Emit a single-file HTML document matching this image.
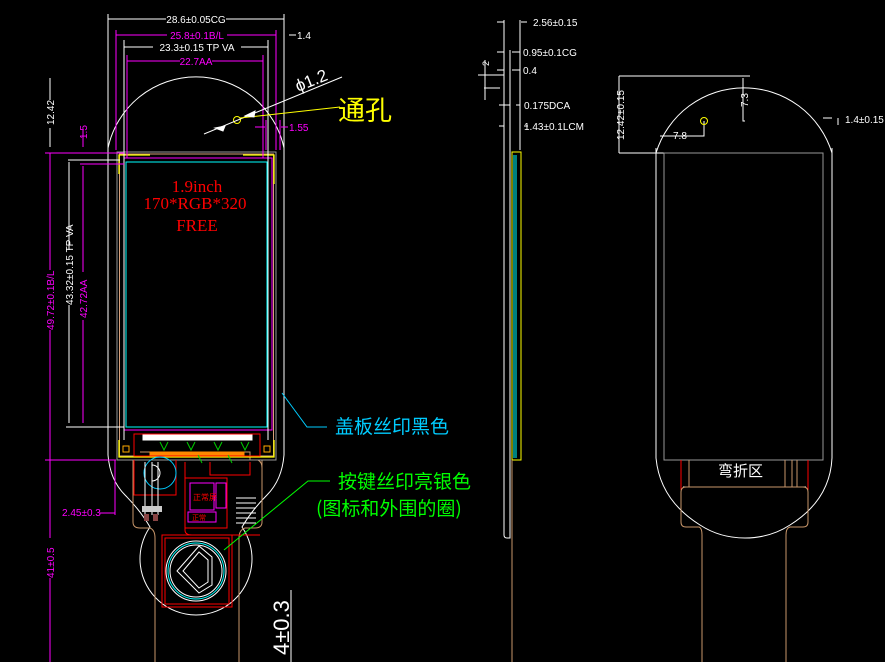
<!DOCTYPE html>
<html><head><meta charset="utf-8"><style>
html,body{margin:0;padding:0;background:#000;width:885px;height:662px;overflow:hidden}
svg{display:block}
text{font-family:"Liberation Sans","Noto Sans CJK SC",sans-serif}
</style></head><body>
<svg width="885" height="662" viewBox="0 0 885 662" xmlns="http://www.w3.org/2000/svg">
<g fill="none" stroke-width="1">
<path d="M108,148 A90,90 0 0 1 284,148" stroke="#fff"/>
<path d="M108,148 V455 Q110,480 125,495 Q140,510 150,527 A56,56 0 1 0 242,527 Q252,510 267,495 Q282,480 284,455 V148" stroke="#fff"/>
<path d="M133,460 V522 Q133,528 140,528 L150,528 Q155,530 155,538 V662" stroke="#c8966a"/>
<path d="M262,460 V522 Q262,528 255,528 L245,528 Q239,530 239,538 V662" stroke="#c8966a"/>
<path d="M140,452 H250 V460 H258 Q262,462 262,468" stroke="#c8966a"/>
<rect x="117" y="152" width="159" height="308" stroke="#999"/>
<rect x="119.5" y="154" width="154" height="302" stroke="#d9a07a"/>
<rect x="124" y="158" width="148" height="272" stroke="#f0f"/>
<rect x="126" y="162" width="141" height="265" stroke="#0ff"/>
<path d="M119,174 V155 H150 M243,155 H274 V184 M119,440 V457 H274 V440" stroke="#ff0" stroke-width="1.3"/>
<rect x="143" y="435" width="109" height="5" fill="#fff" stroke="#fff"/>
<rect x="134" y="434" width="126" height="22" stroke="#f00"/>
<rect x="150" y="452" width="94" height="3" fill="#f80" stroke="#f80"/>
<path d="M160,442 l4,8 l4,-8 M187,442 l4,8 l4,-8 M214,442 l4,8 l4,-8 M241,442 l4,8 l4,-8 M198,455 l4,8 M228,455 l4,8" stroke="#0c0"/>
<rect x="123" y="446" width="6" height="6" stroke="#fa0"/>
<rect x="264" y="446" width="6" height="6" stroke="#fa0"/>
<path d="M134,460 V495 H176 V460" stroke="#f00"/>
<circle cx="160" cy="473" r="16" stroke="#0cf"/>
<path d="M152,465 a8,8 0 1 1 0,16" stroke="#fff"/>
<path d="M145,462 V515 M152,462 V515 M158,462 V515" stroke="#fff"/>
<rect x="142" y="506" width="20" height="6" fill="#ccc"/>
<rect x="144" y="514" width="5" height="7" fill="#844"/>
<rect x="153" y="514" width="5" height="7" fill="#844"/>
<path d="M185,462 V530 Q185,535 192,535 H260" stroke="#f00"/>
<path d="M210,462 V475 H250 V462" stroke="#f00"/>
<rect x="185" y="478" width="42" height="50" stroke="#f00"/>
<rect x="190" y="483" width="24" height="27" stroke="#f0f"/>
<rect x="216" y="483" width="10" height="25" stroke="#f0f"/>
<rect x="188" y="512" width="28" height="10" stroke="#f0f"/>
<text x="193" y="500" font-size="8" fill="#f00" stroke="none">正常屏</text>
<text x="192" y="520" font-size="7" fill="#f00" stroke="none">正常</text>
<path d="M236,498 H256 M236,503 H256 M236,508 H256 M236,513 H256 M236,518 H256 M236,523 H256" stroke="#fff"/>
<rect x="162" y="535" width="70" height="72" stroke="#f00"/>
<rect x="165" y="538" width="64" height="66" stroke="#f00"/>
<circle cx="196" cy="571" r="30" stroke="#fff"/>
<circle cx="196" cy="571" r="28" stroke="#0ff"/>
<circle cx="196" cy="571" r="26" stroke="#fff"/>
<path d="M199,546 L177,571 L199,593 L212,585 L212,557 Z M199,552 L183,571 L199,588 L208,582 L208,560 Z" stroke="#fff"/>
<g stroke="#fff">
<path d="M108,14 V150 M284,14 V150 M108,19 H166 M226,19 H284 M289,35 H296"/>
<path d="M124,40 V440 M268,40 V440 M124,47 H153 M241,47 H268"/>
</g>
<g stroke="#f0f">
<path d="M116,30 V150 M276,30 V150 M116,35 H167 M227,35 H276"/>
<path d="M127,55 V158 M263,55 V158 M127,61 H180 M212,61 H263"/>
<path d="M255,127 H265 M281,127 H288 M266,120 V150 M280,120 V150"/>
</g>
<circle cx="237" cy="120" r="3.5" stroke="#ff0"/>
<path d="M204,134 L342,77" stroke="#fff"/>
<path d="M240,118 L340,107" stroke="#ff0"/>
<path d="M215,128 l10,-2 l-2,5z M245,116 l10,-5 l-1,6z" fill="#fff" stroke="#fff"/>
<g stroke="#fff">
<path d="M50,78 V100 M50,128 V147 M68,160 H120 M69,162 V250 M69,305 V423 M66,427 H124"/>
</g>
<g stroke="#f0f">
<path d="M45,153 H124 M50,153 V270 M50,330 V460 M80,164 H124 M83,166 V272 M83,320 V423 M83,130 V147 M45,460 H116 M50,460 V538 M50,578 V662"/>
<path d="M115,460 V515 M100,513 H115"/>
</g>
<path d="M282,393 L307,427 H327" stroke="#0cf"/>
<path d="M224,550 L308,481 H330" stroke="#0f0"/>
<path d="M291,590 V662" stroke="#fff"/>
<g stroke="#fff">
<path d="M504,20 V535 Q504,538 507,538 M510,50 V538 H507 M520,20 V150 M497,22 H504 M521,22 H527 M497,52 H504 M512,52 H520 M497,70 H504 M512,70 H520 M478,75 H504 M484,88 H500 M485,60 V100 M499,105 H510 M516,105 H520 M499,126 H504 M524,126 H528"/>
</g>
<rect x="512" y="152" width="9" height="308" stroke="#ff0"/>
<path d="M514,155 V458 M516,155 V458" stroke="#0ff"/>
<path d="M512,460 V662" stroke="#c8966a"/>
<path d="M656,153 A92,92 0 0 1 832,153" stroke="#fff"/>
<path d="M656,148 V458 Q660,500 700,525 Q720,538 745,538 Q770,538 790,525 Q830,500 832,458 V148" stroke="#fff"/>
<path d="M619,153 H823 M619,76 H750" stroke="#fff"/>
<path d="M619,76 V153 M743,78 V121 H745 M704,121 V136 H660 M823,118 H832 M838,118 V125" stroke="#fff"/>
<rect x="664" y="153" width="159" height="307" stroke="#999"/>
<circle cx="704" cy="121" r="3.5" stroke="#ff0"/>
<path d="M681,460 V487 M808,460 V487 M689,460 V487 M785,460 V487 M792,460 V487 M797,460 V487" stroke="#c8966a"/>
<path d="M681,460 V490 M808,460 V490" stroke="#f00"/>
<path d="M683,487 H806" stroke="#fff"/>
<path d="M686,487 H803 Q808,487 808,492 V522 Q808,527 803,527 H790 Q786,528 786,535 V662 M686,487 Q681,487 681,492 V522 Q681,527 686,527 H699 Q702,528 702,535 V662" stroke="#c8966a"/>
</g>
<g stroke="none">
<text x="196" y="23" font-size="10" fill="#fff" text-anchor="middle">28.6±0.05CG</text>
<text x="297" y="39" font-size="10" fill="#fff">1.4</text>
<text x="197" y="39" font-size="10" fill="#f0f" text-anchor="middle">25.8±0.1B/L</text>
<text x="197" y="51" font-size="10" fill="#fff" text-anchor="middle">23.3±0.15  TP  VA</text>
<text x="196" y="65" font-size="10" fill="#f0f" text-anchor="middle">22.7AA</text>
<text x="289" y="131" font-size="10" fill="#f0f">1.55</text>
<text x="0" y="0" font-size="17" fill="#fff" transform="translate(298,92) rotate(-22)">ϕ1.2</text>
<text x="338" y="120" font-size="27" fill="#ff0" style="font-family:'Noto Sans CJK SC',sans-serif">通孔</text>
<text x="197" y="192" font-size="17" fill="#f00" text-anchor="middle" style="font-family:'Liberation Serif',serif">1.9inch</text>
<text x="195" y="209" font-size="17" fill="#f00" text-anchor="middle" style="font-family:'Liberation Serif',serif">170*RGB*320</text>
<text x="197" y="231" font-size="17" fill="#f00" text-anchor="middle" style="font-family:'Liberation Serif',serif">FREE</text>
<text transform="translate(54,125) rotate(-90)" font-size="10" fill="#fff">12.42</text>
<text transform="translate(87,139) rotate(-90)" font-size="10" fill="#f0f">1.5</text>
<text transform="translate(54,330) rotate(-90)" font-size="10" fill="#f0f">49.72±0.1B/L</text>
<text transform="translate(73,305) rotate(-90)" font-size="10" fill="#fff">43.32±0.15  TP  VA</text>
<text transform="translate(87,318) rotate(-90)" font-size="10" fill="#f0f">42.72AA</text>
<text transform="translate(54,578) rotate(-90)" font-size="10" fill="#f0f">41±0.5</text>
<text x="62" y="516" font-size="10" fill="#f0f">2.45±0.3</text>
<text transform="translate(289,655) rotate(-90)" font-size="22" fill="#fff">4±0.3</text>
<text x="335" y="433" font-size="19" fill="#0cf" style="font-family:'Noto Sans CJK SC',sans-serif">盖板丝印黑色</text>
<text x="338" y="488" font-size="19" fill="#0f0" style="font-family:'Noto Sans CJK SC',sans-serif">按键丝印亮银色</text>
<text x="316" y="515" font-size="19" fill="#0f0" style="font-family:'Noto Sans CJK SC',sans-serif">(图标和外围的圈)</text>
<text x="533" y="26" font-size="10" fill="#fff">2.56±0.15</text>
<text x="523" y="56" font-size="10" fill="#fff">0.95±0.1CG</text>
<text x="523" y="74" font-size="10" fill="#fff">0.4</text>
<text x="524" y="109" font-size="10" fill="#fff">0.175DCA</text>
<text x="524" y="130" font-size="10" fill="#fff">1.43±0.1LCM</text>
<text transform="translate(489,66) rotate(-90)" font-size="9" fill="#fff">2</text>
<text transform="translate(624,140) rotate(-90)" font-size="10" fill="#fff">12.42±0.15</text>
<text transform="translate(748,107) rotate(-90)" font-size="10" fill="#fff">7.3</text>
<text x="673" y="139" font-size="10" fill="#fff">7.8</text>
<text x="845" y="123" font-size="10" fill="#fff">1.4±0.15</text>
<text x="718" y="476" font-size="15" fill="#fff" style="font-family:'Noto Sans CJK SC',sans-serif">弯折区</text>
</g>
</svg>
</body></html>
